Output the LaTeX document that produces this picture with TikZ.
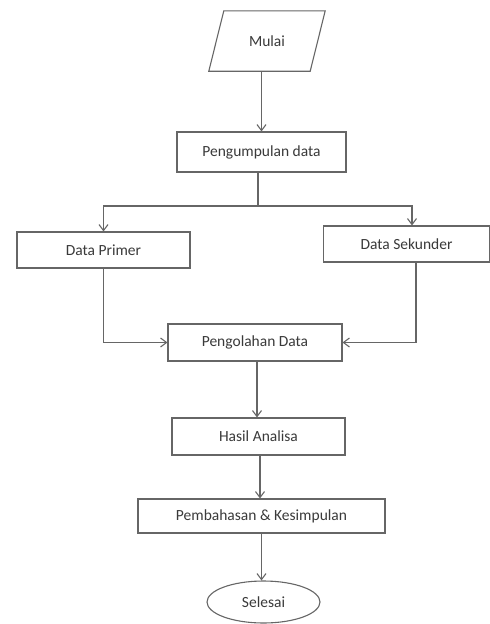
\documentclass[tikz,border=0pt]{standalone}
\usepackage{fontspec}
\setmainfont{Carlito}
\usetikzlibrary{arrows.meta,shapes.geometric}
\definecolor{linec}{HTML}{666666}
\definecolor{textc}{HTML}{3A3A3A}
\begin{document}
\begin{tikzpicture}[x=1pt,y=-1pt,
  every node/.style={font=\fontsize{15.5}{18}\selectfont, text=textc},
  box/.style={draw=linec, line width=1.1pt, rectangle, inner sep=0pt},
  arr/.style={draw=linec, line width=1.1pt, -{Straight Barb[length=6pt,width=9pt]}},
  ln/.style={draw=linec, line width=1.1pt}]
\useasboundingbox[fill=white] (0,0) rectangle (490,624);
% Mulai (parallelogram)
\node (mulai) [minimum width=101pt, minimum height=60pt, inner sep=0pt] at (267,41) {Mulai};
\draw[ln] ([xshift=7.5pt]mulai.north west) -- ([xshift=7.5pt]mulai.north east)
  -- ([xshift=-7.5pt]mulai.south east) -- ([xshift=-7.5pt]mulai.south west) -- cycle;
\node (kumpul) [box, minimum width=169pt, minimum height=40pt] at (261.5,152) {Pengumpulan data};
\node (primer) [box, minimum width=173pt, minimum height=36pt] at (103.5,250) {Data Primer};
\node (sekunder) [box, minimum width=166.5pt, minimum height=36pt] at (406.5,244) {Data Sekunder};
\node (olah) [box, minimum width=174pt, minimum height=37pt] at (255,342.5) {Pengolahan Data};
\node (hasil) [box, minimum width=173pt, minimum height=37pt] at (258.5,436.5) {Hasil Analisa};
\node (bahas) [box, minimum width=247pt, minimum height=34pt] at (261.5,516) {Pembahasan \& Kesimpulan};
\node (selesai) [draw=linec, line width=1.1pt, ellipse, minimum width=113pt, minimum height=42pt, inner sep=0pt] at (263.5,602) {Selesai};
\coordinate (split) at (258,206);
% connectors
\draw[arr] (mulai.south -| kumpul.north) -- (kumpul.north);
\draw[ln] (kumpul.south -| split) -- (split);
\draw[arr] (split) -| (primer.north);
\draw[arr] (split) -| ([xshift=5.5pt]sekunder.north);
\draw[arr] (primer.south) |- (olah.west);
\draw[arr] ([xshift=9.5pt]sekunder.south) |- (olah.east);
\draw[arr] ([xshift=2pt]olah.south) -- ([xshift=2pt]olah.south |- hasil.north);
\draw[arr] ([xshift=1.5pt]hasil.south) -- ([xshift=1.5pt]hasil.south |- bahas.north);
\draw[arr] (bahas.south) -- (bahas.south |- selesai.north);
\end{tikzpicture}
\end{document}
